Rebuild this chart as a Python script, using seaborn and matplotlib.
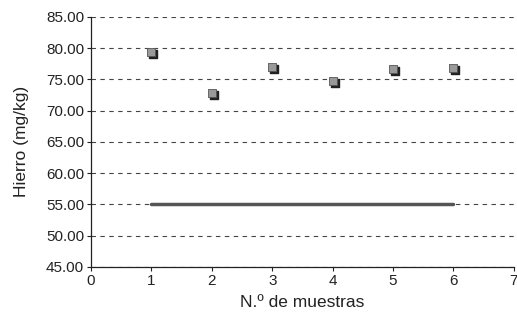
import seaborn as sns
import pandas as pd
import matplotlib.pyplot as plt
import matplotlib.transforms as mtransforms

# data
muestras = [1, 2, 3, 4, 5, 6]
hierro = [79.3, 72.9, 77.0, 74.7, 76.7, 76.8]
limite = [55.0, 55.0, 55.0, 55.0, 55.0, 55.0]
y_ticks = [45, 50, 55, 60, 65, 70, 75, 80, 85]

df = pd.DataFrame({'muestra': muestras, 'hierro': hierro, 'limite': limite})

sns.set_style('white')
plt.rcParams['font.family'] = ['Liberation Sans', 'DejaVu Sans']

fig = plt.figure(figsize=(5.17, 3.24), dpi=100)
ax = fig.add_axes([0.176, 0.176, 0.818, 0.772])

for y in y_ticks:
    ax.axhline(y, color='#444444', lw=0.8, ls=(0, (4, 4)), zorder=0)

# limit line
sns.lineplot(data=df, x='muestra', y='limite', color='#555555', lw=2.5, ax=ax, zorder=2)

# markers with shadow
shadow = ax.transData + mtransforms.ScaledTranslation(2 / 100, -2 / 100, fig.dpi_scale_trans)
ax.scatter(df['muestra'], df['hierro'], marker='s', s=36, color='#222222', transform=shadow, zorder=3)
sns.scatterplot(data=df, x='muestra', y='hierro', marker='s', s=32, color='#999999',
                edgecolor='#555555', linewidth=0.6, ax=ax, zorder=4)

ax.set_xlim(0, 7)
ax.set_ylim(45, 85)
ax.set_xticks(range(0, 8))
ax.set_yticks(y_ticks)
ax.set_yticklabels([f'{v:.2f}' for v in y_ticks])
ax.tick_params(axis='both', labelsize=11, colors='#222222', direction='out', length=3, width=0.8,
               left=True, bottom=True, pad=2)
ax.set_xlabel('N.º de muestras', fontsize=12.5, color='#222222', labelpad=5)
ax.set_ylabel('Hierro (mg/kg)', fontsize=12.5, color='#222222', labelpad=12)
sns.despine(ax=ax, top=True, right=True)
ax.spines['left'].set_color('#222222')
ax.spines['bottom'].set_color('#222222')
ax.spines['left'].set_linewidth(0.9)
ax.spines['bottom'].set_linewidth(0.9)

fig.savefig('out.png', dpi=100)
